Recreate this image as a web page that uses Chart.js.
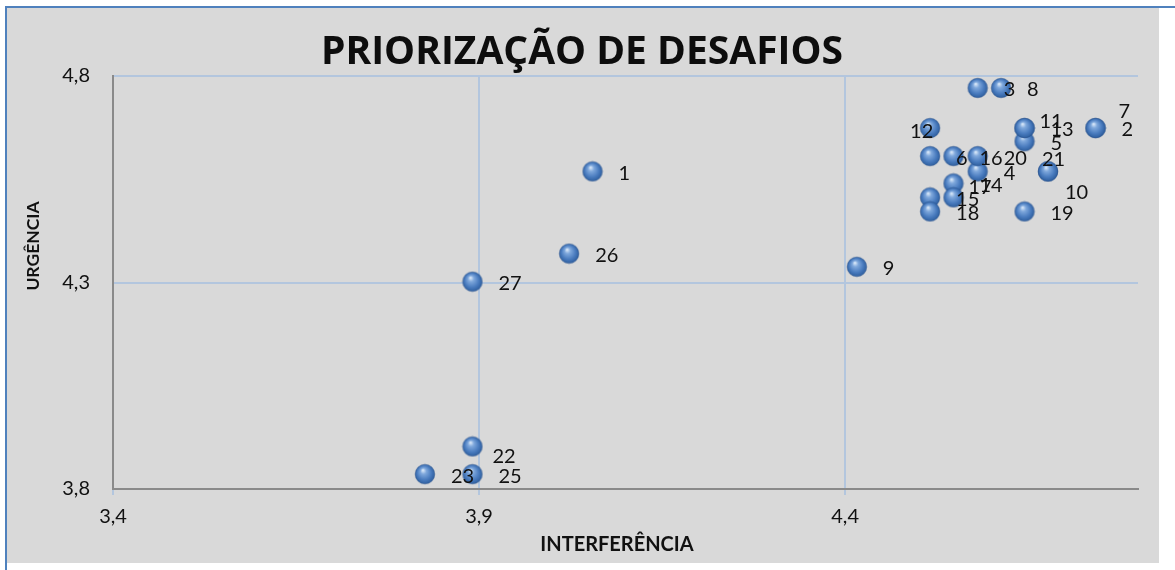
<!DOCTYPE html>
<html>
<head>
<meta charset="utf-8">
<script src="https://cdn.jsdelivr.net/npm/chart.js@4.4.1/dist/chart.umd.min.js"></script>
<style>
  html, body { margin: 0; padding: 0; background: #ffffff; }
  #wrap { position: relative; width: 1175px; height: 570px; overflow: hidden; }
  #panel { position: absolute; left: 7px; top: 8px; width: 1152px; height: 555px; background: #d9d9d9; }
  #lineTop { position: absolute; left: 5px; top: 6px; width: 1170px; height: 2px; background: #4f81bd; }
  #lineLeft { position: absolute; left: 5px; top: 6px; width: 2px; height: 564px; background: #4f81bd; }
  canvas { position: absolute; left: 0; top: 0; }
</style>
</head>
<body>
<div id="wrap">
  <div id="panel"></div>
  <div id="lineTop"></div>
  <div id="lineLeft"></div>
  <canvas id="c" width="1175" height="570"></canvas>
</div>
<script>
// ---- data ----
const categories   = ["1","2","3","4","5","6","7","8","9","10","11","12","13","14","15","16","17","18","19","20","21","22","23","25","26","27"];
const interferencia = [4.055,4.742,4.581,4.581,4.645,4.516,4.742,4.613,4.416,4.677,4.645,4.516,4.645,4.548,4.516,4.548,4.548,4.516,4.645,4.581,4.677,3.891,3.826,3.891,4.023,3.891];
const urgencia      = [4.569,4.674,4.771,4.569,4.642,4.606,4.674,4.771,4.338,4.569,4.674,4.674,4.674,4.540,4.506,4.606,4.506,4.472,4.472,4.606,4.569,3.903,3.836,3.836,4.370,4.302];
const xTickValues = [3.4, 3.9, 4.4];
const yTickValues = [3.8, 4.3, 4.8];
const chartTitle = "PRIORIZAÇÃO DE DESAFIOS";
const xTitle = "INTERFERÊNCIA";
const yTitle = "URGÊNCIA";

// ---- sphere marker ----
function makeSphere() {
  const s = document.createElement('canvas');
  s.width = 22; s.height = 22;
  const g = s.getContext('2d');
  const grad = g.createRadialGradient(9, 7, 0.5, 11, 11, 10.5);
  grad.addColorStop(0, '#d6e6f8');
  grad.addColorStop(0.25, '#7fa8dc');
  grad.addColorStop(0.65, '#4a7cbf');
  grad.addColorStop(1, '#2a5a99');
  g.beginPath(); g.arc(11, 11, 9.8, 0, Math.PI * 2);
  g.fillStyle = grad; g.fill();
  g.lineWidth = 0.8; g.strokeStyle = 'rgba(40,80,140,0.6)'; g.stroke();
  return s;
}
const sphere = makeSphere();

const points = interferencia.map((x, i) => ({ x: x, y: urgencia[i] }));

const labelNudge = { "12": [-46, 2], "11": [-11, -8], "7": [-3, -18], "21": [-32, -14], "10": [-9, 19], "17": [-11, -12], "22": [-6, 8] };

const fmt = v => Number(v).toFixed(1).replace('.', ',');

const labelsPlugin = {
  id: 'pointLabels',
  afterDatasetsDraw(chart) {
    const ctx = chart.ctx;
    const meta = chart.getDatasetMeta(0);
    ctx.save();
    ctx.font = '20px Lato';
    ctx.fillStyle = '#111111';
    ctx.textAlign = 'left';
    ctx.textBaseline = 'middle';
    meta.data.forEach((el, i) => {
      const lab = categories[i];
      const n = labelNudge[lab] || [0, 0];
      ctx.fillText(lab, el.x + 26 + n[0], el.y + 2 + n[1]);
    });
    ctx.restore();
  },
  afterDraw(chart) {
    const ctx = chart.ctx;
    ctx.save();
    ctx.fillStyle = '#111111';
    ctx.textAlign = 'center';
    ctx.textBaseline = 'middle';
    ctx.font = 'bold 20px Lato';
    ctx.fillText(xTitle, 617, 545);
    ctx.font = 'bold 17.5px Lato';
    ctx.translate(33, 246);
    ctx.rotate(-Math.PI / 2);
    ctx.fillText(yTitle, 0, 0);
    ctx.restore();
  }
};

new Chart(document.getElementById('c'), {
  type: 'scatter',
  data: {
    datasets: [{
      label: 'Desafios',
      data: points,
      pointStyle: sphere,
      pointRadius: 10,
      pointHoverRadius: 10
    }]
  },
  options: {
    responsive: false,
    animation: false,
    events: [],
    layout: { padding: { left: 26, right: 37, top: 0, bottom: 0 } },
    plugins: {
      legend: { display: false },
      tooltip: { enabled: false },
      title: {
        display: true,
        text: chartTitle,
        color: '#0d0d0d',
        font: { family: "'Open Sans'", size: 39, weight: 'bold', lineHeight: 1.2 },
        padding: { top: 29, bottom: 0.2 }
      }
    },
    scales: {
      x: {
        type: 'linear',
        min: 3.4, max: 4.8,
        afterBuildTicks: s => { s.ticks = xTickValues.map(v => ({ value: v })); },
        afterFit: s => { s.height = 81; },
        ticks: { callback: fmt, color: '#111111', font: { family: 'Lato', size: 20 }, padding: 10, maxRotation: 0 },
        grid: { color: '#b3c6de', lineWidth: 2, drawTicks: true, tickLength: 6 },
        border: { display: true, color: '#8a8a8a', width: 2 }
      },
      y: {
        type: 'linear',
        min: 3.8, max: 4.8,
        afterBuildTicks: s => { s.ticks = yTickValues.map(v => ({ value: v })); },
        afterFit: s => { s.width = 87; },
        ticks: { callback: fmt, color: '#111111', font: { family: 'Lato', size: 20 }, padding: 23 },
        grid: { color: '#b3c6de', lineWidth: 2, drawTicks: false },
        border: { display: true, color: '#8a8a8a', width: 2 }
      }
    }
  },
  plugins: [labelsPlugin]
});
</script>
</body>
</html>
